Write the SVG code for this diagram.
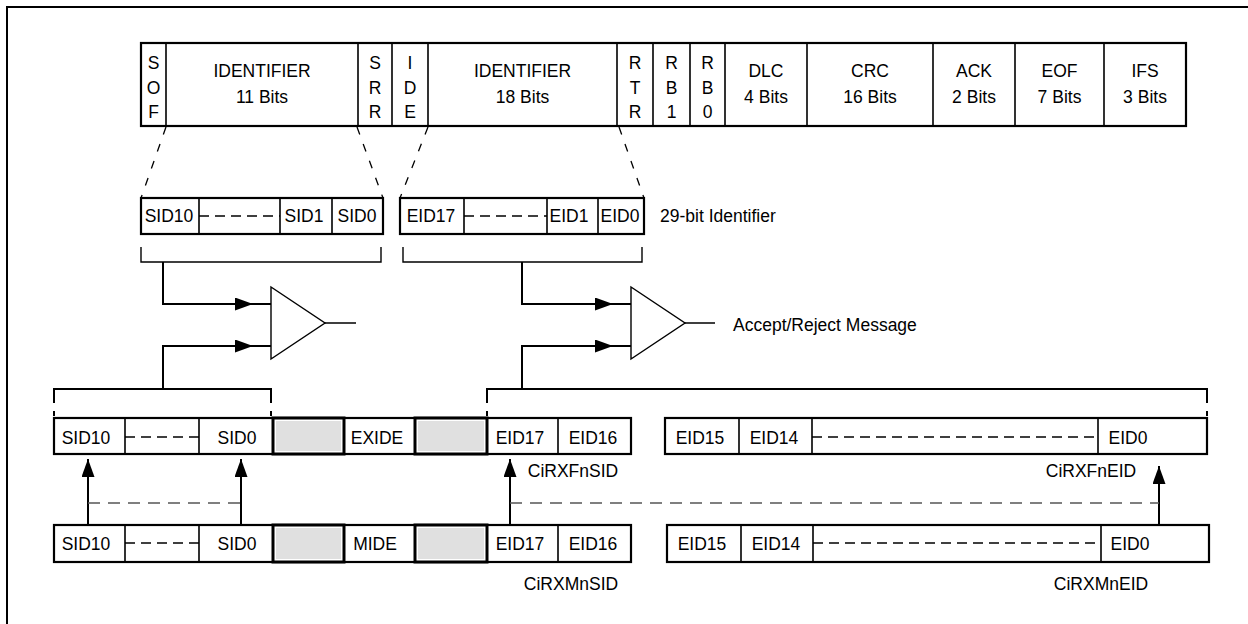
<svg xmlns="http://www.w3.org/2000/svg" width="1248" height="624" viewBox="0 0 1248 624">
<style>
text{font-family:"Liberation Sans",Arial,sans-serif;font-size:17.5px;fill:#000;text-anchor:middle}
text.st{text-anchor:start}
.box{fill:#fff;stroke:#000;stroke-width:2.2}
.div{stroke:#000;stroke-width:1.6;fill:none}
.cd{stroke:#000;stroke-width:1.5;stroke-dasharray:10 6;fill:none}
.diag{stroke:#000;stroke-width:1.3;stroke-dasharray:8 10;fill:none}
.ln{stroke:#000;stroke-width:2;fill:none}
.thin{stroke:#000;stroke-width:1.4;fill:none}
.gd{stroke:#555;stroke-width:1.6;stroke-dasharray:12 8;fill:none}
.gray{fill:#e0e0e0;stroke:none}
.gb{fill:#fff;stroke:#000;stroke-width:3}
.cmp{fill:#fff;stroke:#000;stroke-width:1.4}
</style>
<defs>
<marker id="ah" markerUnits="userSpaceOnUse" markerWidth="18" markerHeight="13" refX="18" refY="6.5" orient="auto">
<path d="M0,0 L18,6.5 L0,13 z" fill="#000"/>
</marker>
</defs>
<rect width="1248" height="624" fill="#fff"/>
<g id="frame">
<path d="M7,624 V7 H1248" class="ln" stroke-width="2.5"/>
</g>
<g id="can-message">
<rect x="141" y="43" width="1045" height="83" class="box"/>
<path class="div" d="M166,43V126M358,43V126M392,43V126M428,43V126M617,43V126M653,43V126M690,43V126M725,43V126M807,43V126M933,43V126M1015,43V126M1104,43V126"/>
<text x="153.5" y="69">S</text><text x="153.5" y="94">O</text><text x="153.5" y="118">F</text>
<text x="262" y="77">IDENTIFIER</text><text x="262" y="103">11 Bits</text>
<text x="375" y="69">S</text><text x="375" y="94">R</text><text x="375" y="118">R</text>
<text x="410" y="69">I</text><text x="410" y="94">D</text><text x="410" y="118">E</text>
<text x="522.5" y="77">IDENTIFIER</text><text x="522.5" y="103">18 Bits</text>
<text x="635" y="69">R</text><text x="635" y="94">T</text><text x="635" y="118">R</text>
<text x="671.5" y="69">R</text><text x="671.5" y="94">B</text><text x="671.5" y="118">1</text>
<text x="707.5" y="69">R</text><text x="707.5" y="94">B</text><text x="707.5" y="118">0</text>
<text x="766" y="77">DLC</text><text x="766" y="103">4 Bits</text>
<text x="870" y="77">CRC</text><text x="870" y="103">16 Bits</text>
<text x="974" y="77">ACK</text><text x="974" y="103">2 Bits</text>
<text x="1059.5" y="77">EOF</text><text x="1059.5" y="103">7 Bits</text>
<text x="1145" y="77">IFS</text><text x="1145" y="103">3 Bits</text>
</g>
<g id="id29-sid">
<rect x="141" y="198" width="242" height="36" class="box"/>
<path class="div" d="M199,198V234M280,198V234M332,198V234"/>
<path class="cd" d="M199,216H280"/>
<text x="169" y="222">SID10</text><text x="304" y="222">SID1</text><text x="357" y="222">SID0</text>
</g>
<g id="id29-eid">
<rect x="400" y="198" width="244" height="36" class="box"/>
<path class="div" d="M464,198V234M547,198V234M598,198V234"/>
<path class="cd" d="M464,216H547"/>
<text x="431" y="222">EID17</text><text x="569" y="222">EID1</text><text x="620" y="222">EID0</text>
</g>
<g id="id29-label"><text class="st" x="660" y="222">29-bit Identifier</text></g>
<g id="comparator-sid"><polygon class="cmp" points="271,287 271,359 325,323"/></g>
<g id="comparator-eid"><polygon class="cmp" points="631,287 631,359 685,323"/></g>
<g id="result-label"><text class="st" x="733" y="331">Accept/Reject Message</text></g>
<g id="filter-sid">
<rect x="54" y="418" width="577" height="36" class="box"/>
<path class="div" d="M125,418V454M199,418V454M558,418V454"/>
<path class="cd" d="M125,437H199"/>
<rect x="273" y="418" width="71" height="36" class="gb"/><rect x="276" y="421" width="65" height="30" class="gray"/>
<rect x="415" y="418" width="72" height="36" class="gb"/><rect x="418" y="421" width="66" height="30" class="gray"/>
<text x="86" y="444">SID10</text><text x="237" y="444">SID0</text><text x="377" y="444">EXIDE</text>
<text x="520" y="444">EID17</text><text x="593" y="444">EID16</text>
<text x="573" y="477">CiRXFnSID</text>
</g>
<g id="filter-eid">
<rect x="665" y="418" width="542" height="36" class="box"/>
<path class="div" d="M739,418V454M812,418V454M1098,418V454"/>
<path class="cd" d="M812,437H1098"/>
<text x="700" y="444">EID15</text><text x="774" y="444">EID14</text><text x="1128" y="444">EID0</text>
<text x="1091" y="477">CiRXFnEID</text>
</g>
<g id="mask-sid">
<rect x="54" y="525" width="577" height="37" class="box"/>
<path class="div" d="M125,525V562M199,525V562M558,525V562"/>
<path class="cd" d="M125,543H199"/>
<rect x="273" y="525" width="71" height="37" class="gb"/><rect x="276" y="528" width="65" height="31" class="gray"/>
<rect x="415" y="525" width="72" height="37" class="gb"/><rect x="418" y="528" width="66" height="31" class="gray"/>
<text x="86" y="550">SID10</text><text x="237" y="550">SID0</text><text x="375" y="550">MIDE</text>
<text x="520" y="550">EID17</text><text x="593" y="550">EID16</text>
<text x="571" y="590">CiRXMnSID</text>
</g>
<g id="mask-eid">
<rect x="667" y="525" width="542" height="37" class="box"/>
<path class="div" d="M741,525V562M813,525V562M1101,525V562"/>
<path class="cd" d="M813,543H1101"/>
<text x="702" y="550">EID15</text><text x="776" y="550">EID14</text><text x="1130" y="550">EID0</text>
<text x="1101" y="590">CiRXMnEID</text>
</g>
<g id="connectors">
<path class="diag" d="M166,127L141,198M357,127L383,198M428,127L400,198M619,127L644,198"/>
<path class="thin" d="M141,247V262H381V247M403,247V262H642V247"/>
<path class="ln" d="M163,262V304H253" marker-end="url(#ah)"/>
<path class="ln" d="M163,389V346H253" marker-end="url(#ah)"/>
<path class="ln" d="M522,262V304H613" marker-end="url(#ah)"/>
<path class="ln" d="M522,389V346H613" marker-end="url(#ah)"/>
<path class="ln" d="M253,304H271M253,346H271M613,304H631M613,346H631"/>
<path class="thin" d="M325,323H356M685,323H715"/>
<path class="ln" d="M54,403V389H271V403M487,403V389H1207V403M54,411V416M271,411V416M487,411V416M1207,411V416"/>
<path class="ln" d="M88,525V459" marker-end="url(#ah)"/>
<path class="ln" d="M241,525V459" marker-end="url(#ah)"/>
<path class="ln" d="M510,525V459" marker-end="url(#ah)"/>
<path class="ln" d="M1159,525V466" marker-end="url(#ah)"/>
<path class="gd" d="M88,503H241M510,503H1159"/>
</g>
</svg>
